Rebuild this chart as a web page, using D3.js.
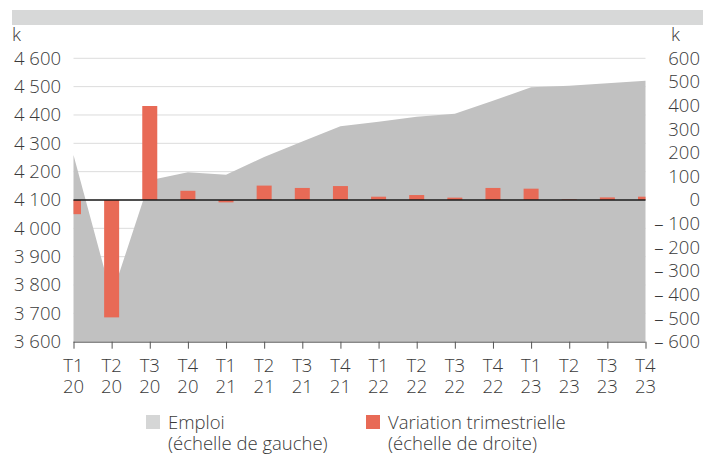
<!DOCTYPE html>
<html><head><meta charset="utf-8">
<script src="https://cdn.jsdelivr.net/npm/d3@7"></script>
<style>
html,body{margin:0;padding:0;background:#fff;}
text{font-family:"Open Sans",sans-serif;font-weight:300;fill:#3a3a3a;}
</style></head>
<body><svg id="c" width="703" height="457"></svg>
<script>
const quarters = ["T1","T2","T3","T4","T1","T2","T3","T4","T1","T2","T3","T4","T1","T2","T3","T4"];
const years = ["20","20","20","20","21","21","21","21","22","22","22","22","23","23","23","23"];
const emploi = [4259,3760,4170,4198,4189,4252,4306,4360,4376,4394,4404,4450,4498,4503,4512,4521];
const variation = [-60,-497,398,39,-10,61,51,59,14,21,10,51,48,3,11,14];
const leftTicks = [3600,3700,3800,3900,4000,4100,4200,4300,4400,4500,4600];
const rightTicks = [-600,-500,-400,-300,-200,-100,0,100,200,300,400,500,600];
const legendLabels = [["Emploi","(échelle de gauche)"],["Variation trimestrielle","(échelle de droite)"]];

const W=703,H=457,FS=18.5;
const L=73.5,R=645.5,T=58.3,B=341.7;
const svg=d3.select("#c");
const idx=quarters.map((d,i)=>i);
const x=d3.scalePoint().domain(idx).range([L,R]);
const yL=d3.scaleLinear().domain([3600,4600]).range([B,T]);
const yR=d3.scaleLinear().domain([-600,600]).range([B,T]);

// top banner
svg.append("rect").attr("x",12).attr("y",10).attr("width",W-12).attr("height",15).attr("fill","#d7d8d8");

// gridlines
svg.append("g").selectAll("line").data(leftTicks.slice(1)).join("line")
  .attr("x1",L).attr("x2",R).attr("y1",d=>yL(d)).attr("y2",d=>yL(d))
  .attr("stroke","#dcdcdc").attr("stroke-width",1);

// clip
svg.append("clipPath").attr("id","plot").append("rect").attr("x",L).attr("y",0).attr("width",R-L).attr("height",B);

// area
const area=d3.area().x((d,i)=>x(i)).y0(yL(3600)).y1(d=>yL(d));
svg.append("path").datum(emploi).attr("d",area).attr("fill","#c1c1c1");

// bars
const bw=15;
svg.append("g").attr("clip-path","url(#plot)").selectAll("rect").data(variation).join("rect")
  .attr("x",(d,i)=>x(i)-bw/2).attr("width",bw)
  .attr("y",d=>Math.min(yR(d),yR(0))).attr("height",d=>Math.abs(yR(d)-yR(0)))
  .attr("fill","#e86a56");

// zero line
svg.append("line").attr("x1",L).attr("x2",R).attr("y1",yR(0)).attr("y2",yR(0)).attr("stroke","#1a1a1a").attr("stroke-width",1.3);

// bottom axis
const ax=svg.append("g").attr("transform",`translate(0,${B})`)
  .call(d3.axisBottom(x).tickSize(7).tickFormat(""));
ax.select(".domain").attr("stroke","#555").attr("d",`M${L},0.5H${R}`);
ax.selectAll(".tick line").attr("stroke","#555");
svg.append("g").selectAll("text").data(idx).join("text")
  .attr("x",i=>x(i)).attr("y",372).attr("text-anchor","middle").attr("font-size",FS).text(i=>quarters[i]);
svg.append("g").selectAll("text").data(idx).join("text")
  .attr("x",i=>x(i)).attr("y",393).attr("text-anchor","middle").attr("font-size",FS).text(i=>years[i]);

// left axis labels
svg.append("g").selectAll("text").data(leftTicks).join("text")
  .attr("x",61).attr("y",d=>yL(d)).attr("dy","0.35em").attr("text-anchor","end").attr("font-size",FS)
  .text(d=>String(d).slice(0,1)+" "+String(d).slice(1));
svg.append("text").attr("x",12).attr("y",41).attr("font-size",FS).text("k");

// right axis labels
svg.append("g").selectAll("text").data(rightTicks).join("text")
  .attr("x",700).attr("y",d=>yR(d)).attr("dy","0.35em").attr("text-anchor","end").attr("font-size",FS)
  .text(d=>d<0?"\u2013 "+Math.abs(d):String(d));
svg.append("text").attr("x",671).attr("y",41).attr("font-size",FS).text("k");

// legend
const lg=[{x:146,c:"#d5d6d6"},{x:366,c:"#e86a56"}];
lg.forEach((g,i)=>{
  svg.append("rect").attr("x",g.x).attr("y",415).attr("width",14).attr("height",14).attr("fill",g.c);
  svg.append("text").attr("x",g.x+22).attr("y",429).attr("font-size",FS).text(legendLabels[i][0]);
  svg.append("text").attr("x",g.x+22).attr("y",450).attr("font-size",FS).text(legendLabels[i][1]);
});
</script></body></html>
